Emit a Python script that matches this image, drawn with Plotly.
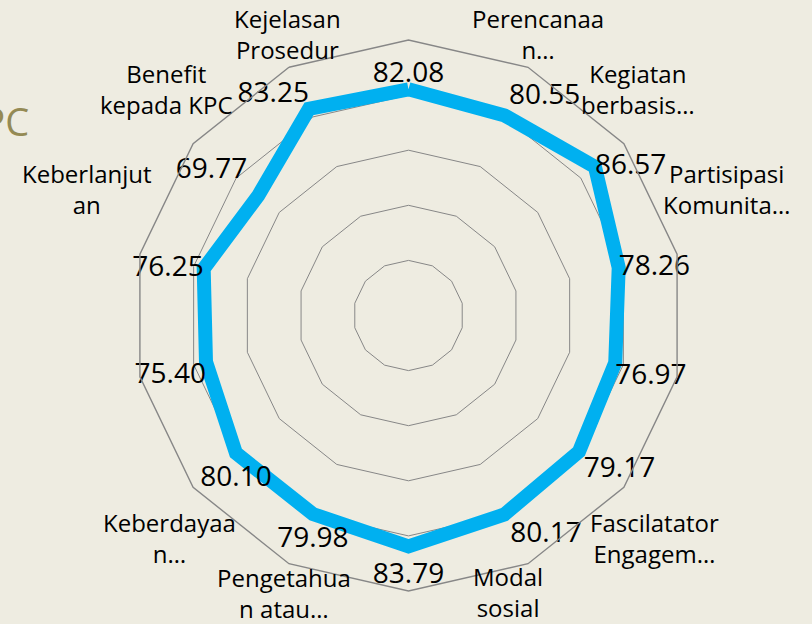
import plotly.graph_objects as go

# ---- data -------------------------------------------------------------
category_keys = [f"c{i:02d}" for i in range(14)]
category_labels = [
    "",
    "Perencanaa<br>n…",
    "Kegiatan<br>berbasis…",
    "Partisipasi<br>Komunita…",
    "",
    "Fascilatator<br>Engagem…",
    "Modal<br>sosial",
    "",
    "Pengetahua<br>n atau…",
    "Keberdayaa<br>n…",
    "",
    "Keberlanjut<br>an",
    "Benefit<br>kepada KPC",
    "Kejelasan<br>Prosedur",
]
scores = [82.08, 80.55, 86.57, 78.26, 76.97, 79.17, 80.17,
          83.79, 79.98, 80.10, 75.40, 76.25, 69.77, 83.25]

# ---- styling / placement (kept apart from the data) -------------------
W, H = 812, 624
label_pos = ["top center", "top right", "middle right", "middle right",
             "bottom right", "bottom right", "bottom right", "bottom center",
             "bottom center", "bottom center", "bottom left", "middle left",
             "top left", "top left"]
label_pad = [0, 5, 0, 0, 0, 6, 8, 24, 18, 18, 0, 0, 16, 0]
# pixel anchors (centre) of the category-name boxes, as laid out by the source
cat_anchor_px = [None, (538, 34), (638, 89), (726, 189), None, (654, 538),
                 (508, 592), None, (284, 593), (169, 538), None, (87, 189),
                 (166, 89), (287, 34)]

BG = "#EEECE1"
GRID = "#878787"
FONT = "Open Sans"

theta = category_keys + category_keys[:1]
r = scores + scores[:1]
texts = [f"{v:.2f}" for v in scores] + [""]

fig = go.Figure()
fig.add_trace(go.Scatterpolar(
    r=r,
    theta=theta,
    mode="lines+markers+text",
    line=dict(color="#00B0F0", width=14),
    marker=dict(size=label_pad + [0], color="rgba(0,0,0,0)",
                line=dict(width=0, color="rgba(0,0,0,0)")),
    text=texts,
    textposition=label_pos + ["top center"],
    textfont=dict(family=FONT, size=28, color="#000000"),
    hoverinfo="skip",
    showlegend=False,
    cliponaxis=False,
))

annotations = []
for lab, anc in zip(category_labels, cat_anchor_px):
    if not lab or anc is None:
        continue
    annotations.append(dict(
        text=lab, xref="paper", yref="paper",
        x=anc[0] / W, y=1 - anc[1] / H,
        xanchor="center", yanchor="middle", align="center",
        showarrow=False,
        font=dict(family=FONT, size=24, color="#000000"),
    ))
annotations.append(dict(
    text="KPC", xref="paper", yref="paper",
    x=31 / W, y=1 - 121 / H,
    xanchor="right", yanchor="middle",
    showarrow=False,
    font=dict(family=FONT, size=38, color="#948A54"),
))

fig.update_layout(
    width=W,
    height=H,
    paper_bgcolor=BG,
    plot_bgcolor=BG,
    margin=dict(l=0, r=0, t=0, b=0),
    font=dict(family=FONT, color="#000000"),
    polar=dict(
        domain=dict(x=[133 / W, 684 / W], y=[33 / H, 584 / H]),
        bgcolor=BG,
        gridshape="linear",
        radialaxis=dict(
            range=[0, 100],
            tick0=0,
            dtick=20,
            showticklabels=False,
            ticks="",
            showline=False,
            gridcolor=GRID,
            gridwidth=1.4,
        ),
        angularaxis=dict(
            type="category",
            categoryorder="array",
            categoryarray=category_keys,
            rotation=90,
            direction="clockwise",
            tickmode="array",
            tickvals=category_keys,
            ticktext=category_labels,
            showticklabels=False,
            ticks="",
            showgrid=False,
            showline=True,
            linecolor=GRID,
            linewidth=1.4,
        ),
    ),
    annotations=annotations,
)

fig.write_html("out.html", config={"displayModeBar": False},
               post_script="document.body.style.margin='0';")
